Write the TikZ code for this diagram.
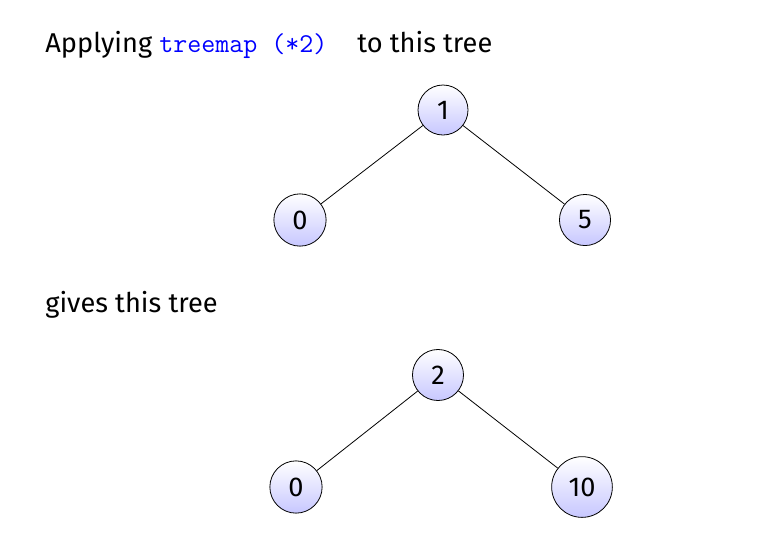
\documentclass[tikz,border=0pt]{standalone}
\usepackage{fontspec}
\setmainfont{Fira Sans}
\usetikzlibrary{graphs}

\begin{document}
\begin{tikzpicture}[x=0.5pt, y=-0.5pt, font=\fontsize{13.6}{16}\selectfont]
\useasboundingbox (0,0) rectangle (771,537);

% captions
\node[anchor=base west, inner sep=0pt] (intro) at (45,52)
    {Applying \textcolor{blue}{\texttt{treemap (*2)}}\hspace{1.1em}to this tree};
\node[anchor=base west, inner sep=0pt] (result) at (45,312) {gives this tree};

\graph [
    nodes={
        circle,
        draw,
        top color=white,       % light at the top
        bottom color=blue!22,  % lavender towards the bottom
        minimum size=25pt,
        inner sep=5pt
    },
    no placement
]
{
    % the tree before the map
    top/1[at={(443,110)}] -- {
        lo/0[at={(300,220)}],
        hi/5[at={(585,220)}]
    },
    % the tree after the map
    top'/2[at={(438,375)}] -- {
        lo'/0[at={(296,487)}],
        hi'/10[at={(582,487)}]
    }
};
\end{tikzpicture}
\end{document}
